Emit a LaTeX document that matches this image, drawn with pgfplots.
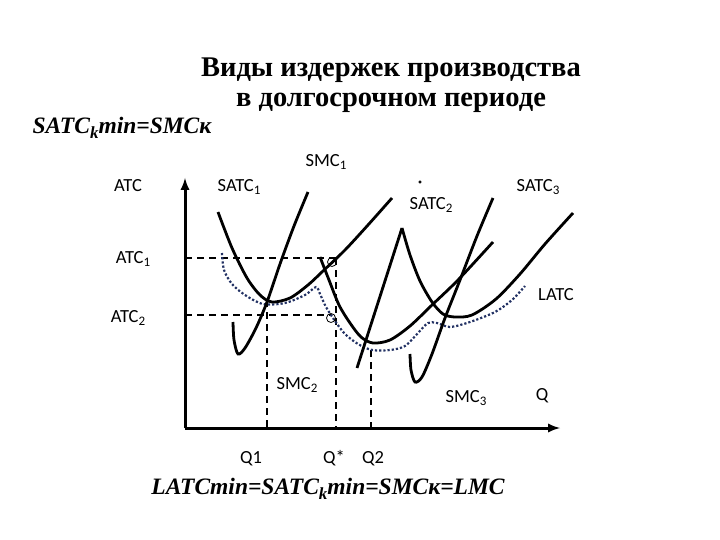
\documentclass[border=0pt]{standalone}
\usepackage{pgfplots}
\pgfplotsset{compat=1.18}
\usepackage{fontspec}
\setmainfont{Carlito}
\newfontfamily\serifb{Liberation Serif}
\definecolor{latc}{RGB}{35,50,100}
\newcommand{\sub}[1]{\raisebox{-0.35ex}{\fontsize{13}{14}\selectfont #1}}
\begin{document}
\begin{tikzpicture}
\begin{axis}[
  scale only axis, width=720pt, height=540pt,
  xmin=0, xmax=720, ymin=0, ymax=540, y dir=reverse,
  hide axis, clip=false,
]
\path (axis cs:0,0) rectangle (axis cs:720,540);
% axes
\addplot[black, line width=3pt, -latex] coordinates {(185,428) (185,178)};
\addplot[black, line width=3pt, -latex] coordinates {(185,428) (560,428)};
% dashed helper lines
\addplot[black, line width=1.8pt, dash pattern=on 7pt off 5pt] coordinates {(185,258) (336,258)};
\addplot[black, line width=1.8pt, dash pattern=on 7pt off 5pt] coordinates {(185,315) (332,315)};
\addplot[black, line width=1.8pt, dash pattern=on 7pt off 5pt] coordinates {(267,300) (267,428)};
\addplot[black, line width=1.8pt, dash pattern=on 7pt off 5pt] coordinates {(336,258) (336,428)};
\addplot[black, line width=1.8pt, dash pattern=on 7pt off 5pt] coordinates {(371,350) (371,428)};
% LATC
\addplot[latc, line width=2.2pt, dotted, smooth] coordinates {
(222,253) (224,270) (232,284) (245,295) (263,304) (285,303) (305,295) (316,287)
(320,294) (326,307) (335,321) (345,334) (358,344) (372,350) (390,350) (405,346)
(418,333) (428,323) (437,323) (450,327) (470,322) (495,312) (512,300) (525,286)};
% SATC1
\addplot[black, line width=2.8pt, smooth] coordinates {
(218,212) (232,248) (247,278) (260,295) (272,302) (290,298) (308,285) (323,271) (345,250) (368,225) (392,198)};
% SMC1
\addplot[black, line width=2.8pt, smooth] coordinates {
(233,322) (234,340) (238,354) (245,348) (256,328) (267,302) (280,264) (294,226) (308,192)};
% SATC2
\addplot[black, line width=2.8pt, smooth] coordinates {
(320,257) (329,280) (339,305) (350,323) (361,337) (373,343) (390,340) (410,326) (432,305) (458,280) (493,242)};
% SMC2
\addplot[black, line width=2.8pt] coordinates {(357,368) (402,228)};
% SATC3
\addplot[black, line width=2.8pt, smooth] coordinates {
(402,228) (410,255) (420,281) (432,302) (443,314) (455,317) (472,315) (496,299) (520,274) (545,244) (573,213)};
% SMC3
\addplot[black, line width=2.8pt, smooth] coordinates {
(410,354) (411,370) (415,382) (422,377) (432,354) (445,318) (460,280) (477,236) (493,198)};
% small circles
\addplot[black, only marks, mark=o, mark size=4.5pt, mark options={line width=0.8pt}] coordinates {(332,262) (331,318)};
\addplot[black, only marks, mark=*, mark size=1.3pt] coordinates {(420,182)};
% titles
\node[font=\serifb\bfseries\fontsize{28.5}{32}\selectfont, anchor=center] at (axis cs:391,70) {Виды издержек производства};
\node[font=\serifb\bfseries\fontsize{28.5}{32}\selectfont, anchor=center] at (axis cs:391,103) {в долгосрочном периоде};
\node[font=\serifb\bfseries\itshape\fontsize{23.5}{26}\selectfont, anchor=west] at (axis cs:29,128) {SATC\raisebox{-0.5ex}{\fontsize{17}{18}\selectfont k}min=SMCк};
\node[font=\serifb\bfseries\itshape\fontsize{23.5}{26}\selectfont, anchor=center] at (axis cs:328,489) {LATCmin=SATC\raisebox{-0.5ex}{\fontsize{17}{18}\selectfont k}min=SMCк=LMC};
% labels
\def\lf{\fontsize{18.5}{20}\selectfont}
\node[font=\lf] at (axis cs:128,186) {ATC};
\node[font=\lf] at (axis cs:239,187) {SATC\sub{1}};
\node[font=\lf] at (axis cs:326,162) {SMC\sub{1}};
\node[font=\lf] at (axis cs:431,205) {SATC\sub{2}};
\node[font=\lf] at (axis cs:538,187) {SATC\sub{3}};
\node[font=\lf] at (axis cs:133,259) {ATC\sub{1}};
\node[font=\lf] at (axis cs:556,295) {LATC};
\node[font=\lf] at (axis cs:128,318) {ATC\sub{2}};
\node[font=\lf] at (axis cs:297,385) {SMC\sub{2}};
\node[font=\lf] at (axis cs:466,398) {SMC\sub{3}};
\node[font=\lf] at (axis cs:542,396) {Q};
\node[font=\lf, anchor=base] at (axis cs:251,463) {Q1};
\node[font=\lf, anchor=base] at (axis cs:334,463) {Q*};
\node[font=\lf, anchor=base] at (axis cs:373,463) {Q2};
\end{axis}
\end{tikzpicture}
\end{document}
